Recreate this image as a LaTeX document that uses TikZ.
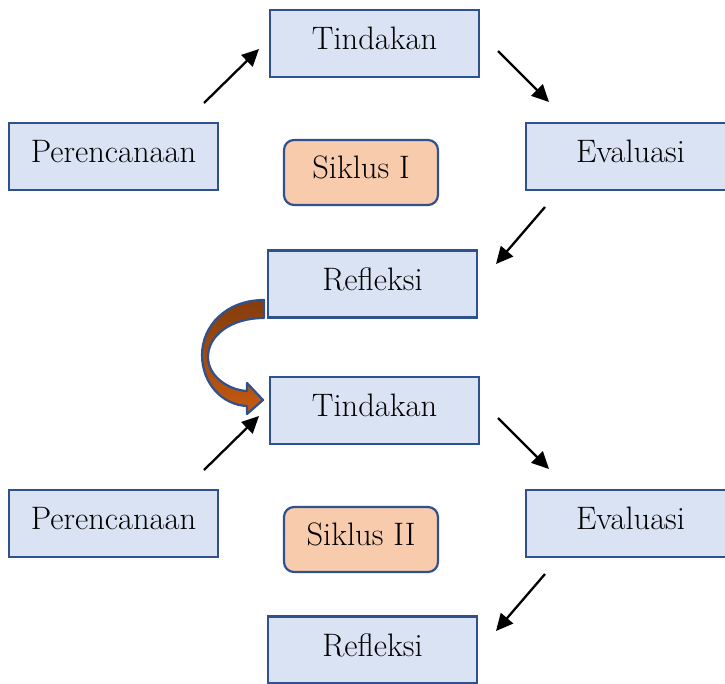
\documentclass[tikz,border=0pt]{standalone}
\usetikzlibrary{arrows.meta}
\definecolor{boxfill}{HTML}{DAE3F3}
\definecolor{boxline}{HTML}{2F528F}
\definecolor{siklusfill}{HTML}{F8CBAD}
\definecolor{arrdark}{HTML}{843C0C}
\definecolor{arrlight}{HTML}{C55A11}
\tikzset{
  stagebox/.style={draw=boxline, fill=boxfill, line width=2.2pt, minimum width=209pt, minimum height=67pt, inner sep=0pt, text depth=10pt, font=\fontsize{32.5}{38}\selectfont},
  siklusbox/.style={draw=boxline, fill=siklusfill, line width=2.2pt, rounded corners=10pt, minimum width=154pt, minimum height=65pt, inner sep=0pt, text depth=10pt, font=\fontsize{32.5}{38}\selectfont},
  flowarrow/.style={draw=black, line width=2.3pt, -{Triangle[length=17pt,width=16pt]}}
}
\begin{document}
\begin{tikzpicture}[x=1pt,y=-1pt]
\useasboundingbox (0,0) rectangle (725,683);
% cycle I
\node[stagebox] (t1) at (374.5,43.5) {Tindakan};
\node[stagebox] (p1) at (113.5,156.5) {Perencanaan};
\node[stagebox] (e1) at (630.5,156.5) {Evaluasi};
\node[siklusbox] (s1) at (361,172.5) {Siklus I};
\node[stagebox] (r1) at (372.5,284) {Refleksi};
% cycle II
\node[stagebox] (t2) at (374.5,410.5) {Tindakan};
\node[stagebox] (p2) at (113.5,523.5) {Perencanaan};
\node[stagebox] (e2) at (630.5,523.5) {Evaluasi};
\node[siklusbox] (s2) at (361,539.5) {Siklus II};
\node[stagebox] (r2) at (372.5,650) {Refleksi};
% arrow endpoints
\coordinate (a1s) at (204,103); \coordinate (a1e) at (259,49);
\coordinate (a2s) at (498,51);  \coordinate (a2e) at (549,102);
\coordinate (a3s) at (545,207); \coordinate (a3e) at (496,264);
\coordinate (b1s) at (204,470); \coordinate (b1e) at (259,416);
\coordinate (b2s) at (498,418); \coordinate (b2e) at (549,469);
\coordinate (b3s) at (545,574); \coordinate (b3e) at (496,631);
\draw[flowarrow] (a1s) -- (a1e);
\draw[flowarrow] (a2s) -- (a2e);
\draw[flowarrow] (a3s) -- (a3e);
\draw[flowarrow] (b1s) -- (b1e);
\draw[flowarrow] (b2s) -- (b2e);
\draw[flowarrow] (b3s) -- (b3e);
% curved connector from Refleksi I to Tindakan II
\shade[top color=arrdark, bottom color=arrlight, draw=boxline, line width=2.2pt, line join=round]
  (264,300) .. controls (226,300) and (202,326) .. (202,355)
  .. controls (202,383) and (222,405) .. (247,406)
  -- (247,414) -- (263,400) -- (247,383) -- (247,391)
  .. controls (228,390) and (208,376) .. (208,357)
  .. controls (208,336) and (230,318) .. (264,318) -- cycle;
\end{tikzpicture}
\end{document}
